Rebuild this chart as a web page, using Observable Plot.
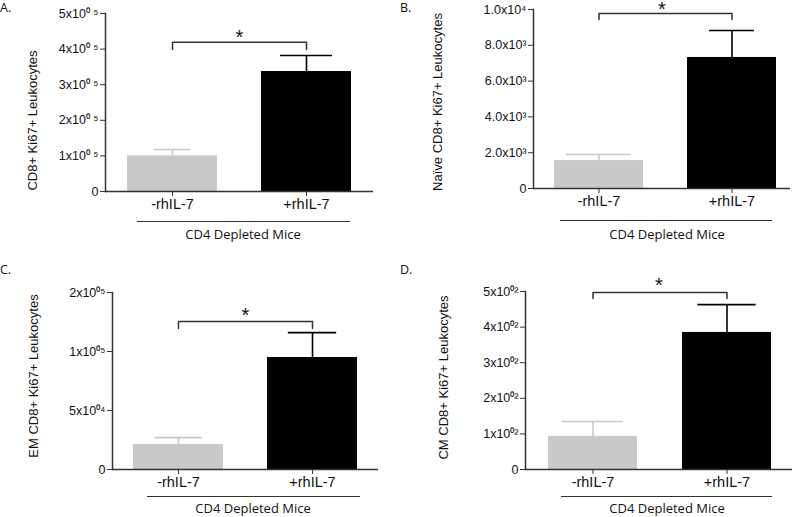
<!DOCTYPE html>
<html>
<head>
<meta charset="utf-8">
<script src="https://cdn.jsdelivr.net/npm/d3@7"></script>
<script src="https://cdn.jsdelivr.net/npm/@observablehq/plot@0.6"></script>
<style>
  html, body { margin: 0; padding: 0; background: #fff; }
  #wrap { position: relative; width: 800px; height: 517px; background: #fff; overflow: hidden; }
  .pnl { position: absolute; }
  .letter { position: absolute; font-family: "Open Sans", sans-serif; font-size: 12.5px; color: #111; line-height: 1; }
  .grp { position: absolute; height: 0; border-top: 1.3px solid #333; }
  .cap { position: absolute; font-family: "Open Sans", sans-serif; font-size: 13px; line-height: 13px; color: #111; transform: translateX(-50%); white-space: nowrap; }
</style>
</head>
<body>
<div id="wrap"></div>
<script>
// ---- data ----
const groups = ["-rhIL-7", "+rhIL-7"];
const groupCaption = "CD4 Depleted Mice";
const panelLetters = ["A.", "B.", "C.", "D."];
const yLabels = [
  "CD8+ Ki67+ Leukocytes",
  "Naïve CD8+ Ki67+ Leukocytes",
  "EM CD8+ Ki67+ Leukocytes",
  "CM CD8+ Ki67+ Leukocytes"
];
const meansA = [1.0e5, 3.37e5];
const errsA  = [0.18e5, 0.45e5];
const meansB = [1560, 7320];
const errsB  = [340, 1510];
const meansC = [2.12e4, 9.49e4];
const errsC  = [5800, 21100];
const meansD = [93, 385];
const errsD  = [42, 78];

const ticksA = [0, 1e5, 2e5, 3e5, 4e5, 5e5];
const tickLabelsA = ["0", "1x10⁰ ⁵", "2x10⁰ ⁵", "3x10⁰ ⁵", "4x10⁰ ⁵", "5x10⁰ ⁵"];
const ticksB = [0, 2000, 4000, 6000, 8000, 10000];
const tickLabelsB = ["0", "2.0x10³", "4.0x10³", "6.0x10³", "8.0x10³", "1.0x10⁴"];
const ticksC = [0, 5e4, 1e5, 1.5e5];
const tickLabelsC = ["0", "5x10⁰⁴", "1x10⁰⁵", "2x10⁰⁵"];
const ticksD = [0, 100, 200, 300, 400, 500];
const tickLabelsD = ["0", "1x10⁰²", "2x10⁰²", "3x10⁰²", "4x10⁰²", "5x10⁰²"];

// significance bracket level, bracket end drop, star level (data units)
const bracketA = [4.19e5, 3.99e5, 4.47e5];
const bracketB = [9780, 9440, 10250];
const bracketC = [1.254e5, 1.195e5, 1.35e5];
const bracketD = [497, 480, 531];
const sigMark = "*";

// ---- styling / layout ----
const barColors = ["#c9c9c9", "#000000"];
const axisColor = "#333";

const panels = [
  {means: meansA, errs: errsA, ticks: ticksA, labels: tickLabelsA, domain: [0, 5e5], br: bracketA,
   left: 0, top: 0, w: 400, h: 258, ml: 105, mr: 27, mt: 13, mb: 67, pi: 0.328, po: 0.164, align: 0.5,
   capW: [37, 52], ldx: -73, ldy: 18,
   letter: [0, 2], line: [137, 221, 213], cap: [243, 227.5]},
  {means: meansB, errs: errsB, ticks: ticksB, labels: tickLabelsB, domain: [0, 10000], br: bracketB,
   left: 400, top: 0, w: 400, h: 258, ml: 133, mr: 10, mt: 9, mb: 70, pi: 0.328, po: 0.123, align: 0.6,
   capW: [66, 46], ldx: -96, ldy: 3,
   letter: [400, 2], line: [560, 220, 212], cap: [667, 227.5]},
  {means: meansC, errs: errsC, ticks: ticksC, labels: tickLabelsC, domain: [0, 1.5e5], br: bracketC,
   left: 0, top: 260, w: 400, h: 257, ml: 112, mr: 22, mt: 32, mb: 48, pi: 0.331, po: 0.158, align: 0.5,
   capW: [47, 48], ldx: -79, ldy: -5,
   letter: [0, 264], line: [147, 496, 213], cap: [253, 501.5]},
  {means: meansD, errs: errsD, ticks: ticksD, labels: tickLabelsD, domain: [0, 500], br: bracketD,
   left: 400, top: 260, w: 400, h: 257, ml: 125, mr: 8, mt: 31, mb: 48, pi: 0.333, po: 0.159, align: 0.53,
   capW: [62, 59], ldx: -82, ldy: -3,
   letter: [400, 264], line: [561, 496, 211], cap: [667, 501.5]}
];

const wrap = document.getElementById("wrap");

panels.forEach((p, k) => {
  const data = groups.map((g, i) => ({g, v: p.means[i], e: p.errs[i], i}));
  const frameW = p.w - p.ml - p.mr;
  const step = frameW / (groups.length - p.pi + 2 * p.po);
  const bw = step * (1 - p.pi);
  const bracketPts = [
    {g: groups[0], y: p.br[1]}, {g: groups[0], y: p.br[0]},
    {g: groups[1], y: p.br[0]}, {g: groups[1], y: p.br[1]}
  ];

  const chart = Plot.plot({
    width: p.w, height: p.h,
    marginLeft: p.ml, marginRight: p.mr, marginTop: p.mt, marginBottom: p.mb,
    style: {background: "transparent", color: "#111", fontFamily: "'Liberation Sans', Arial, sans-serif", overflow: "visible"},
    x: {domain: groups, paddingInner: p.pi, paddingOuter: p.po, align: p.align, label: null},
    y: {domain: p.domain, label: null},
    marks: [
      Plot.barY(data, {x: "g", y: "v", fill: d => barColors[d.i]}),
      Plot.ruleX(data, {x: "g", y1: "v", y2: d => d.v + d.e, stroke: d => barColors[d.i], strokeWidth: 1.6}),
      ...data.map(d => Plot.tickY([d], {x: "g", y: dd => dd.v + dd.e, stroke: barColors[d.i], strokeWidth: 1.6,
        insetLeft: (bw - p.capW[d.i]) / 2, insetRight: (bw - p.capW[d.i]) / 2})),
      Plot.line(bracketPts, {x: "g", y: "y", stroke: axisColor, strokeWidth: 1.5}),
      Plot.text([sigMark], {text: d => d, y: () => p.br[2], frameAnchor: "middle", fontSize: 20, dy: 5, fill: "#111"}),
      Plot.ruleY([0], {stroke: axisColor, strokeWidth: 1.5}),
      Plot.frame({anchor: "left", stroke: axisColor, strokeWidth: 1.5}),
      Plot.axisY({ticks: p.ticks, tickFormat: (d) => p.labels[p.ticks.indexOf(d)], tickSize: 5, tickPadding: 2,
        fontSize: 12.5, label: null, stroke: axisColor}),
      Plot.axisX({tickSize: 5, tickPadding: 2, fontSize: 14.5, label: null, stroke: axisColor}),
      Plot.text([yLabels[k]], {text: d => d, frameAnchor: "left", textAnchor: "middle", rotate: -90,
        dx: p.ldx, dy: p.ldy, fontSize: 13, fill: "#111"})
    ]
  });
  chart.classList.add("pnl");
  chart.style.left = p.left + "px";
  chart.style.top = p.top + "px";
  wrap.appendChild(chart);

  const letter = document.createElement("div");
  letter.className = "letter";
  letter.textContent = panelLetters[k];
  letter.style.left = p.letter[0] + "px";
  letter.style.top = p.letter[1] + "px";
  wrap.appendChild(letter);

  const line = document.createElement("div");
  line.className = "grp";
  line.style.left = p.line[0] + "px";
  line.style.top = p.line[1] + "px";
  line.style.width = p.line[2] + "px";
  wrap.appendChild(line);

  const cap = document.createElement("div");
  cap.className = "cap";
  cap.textContent = groupCaption;
  cap.style.left = p.cap[0] + "px";
  cap.style.top = p.cap[1] + "px";
  wrap.appendChild(cap);
});
</script>
</body>
</html>
